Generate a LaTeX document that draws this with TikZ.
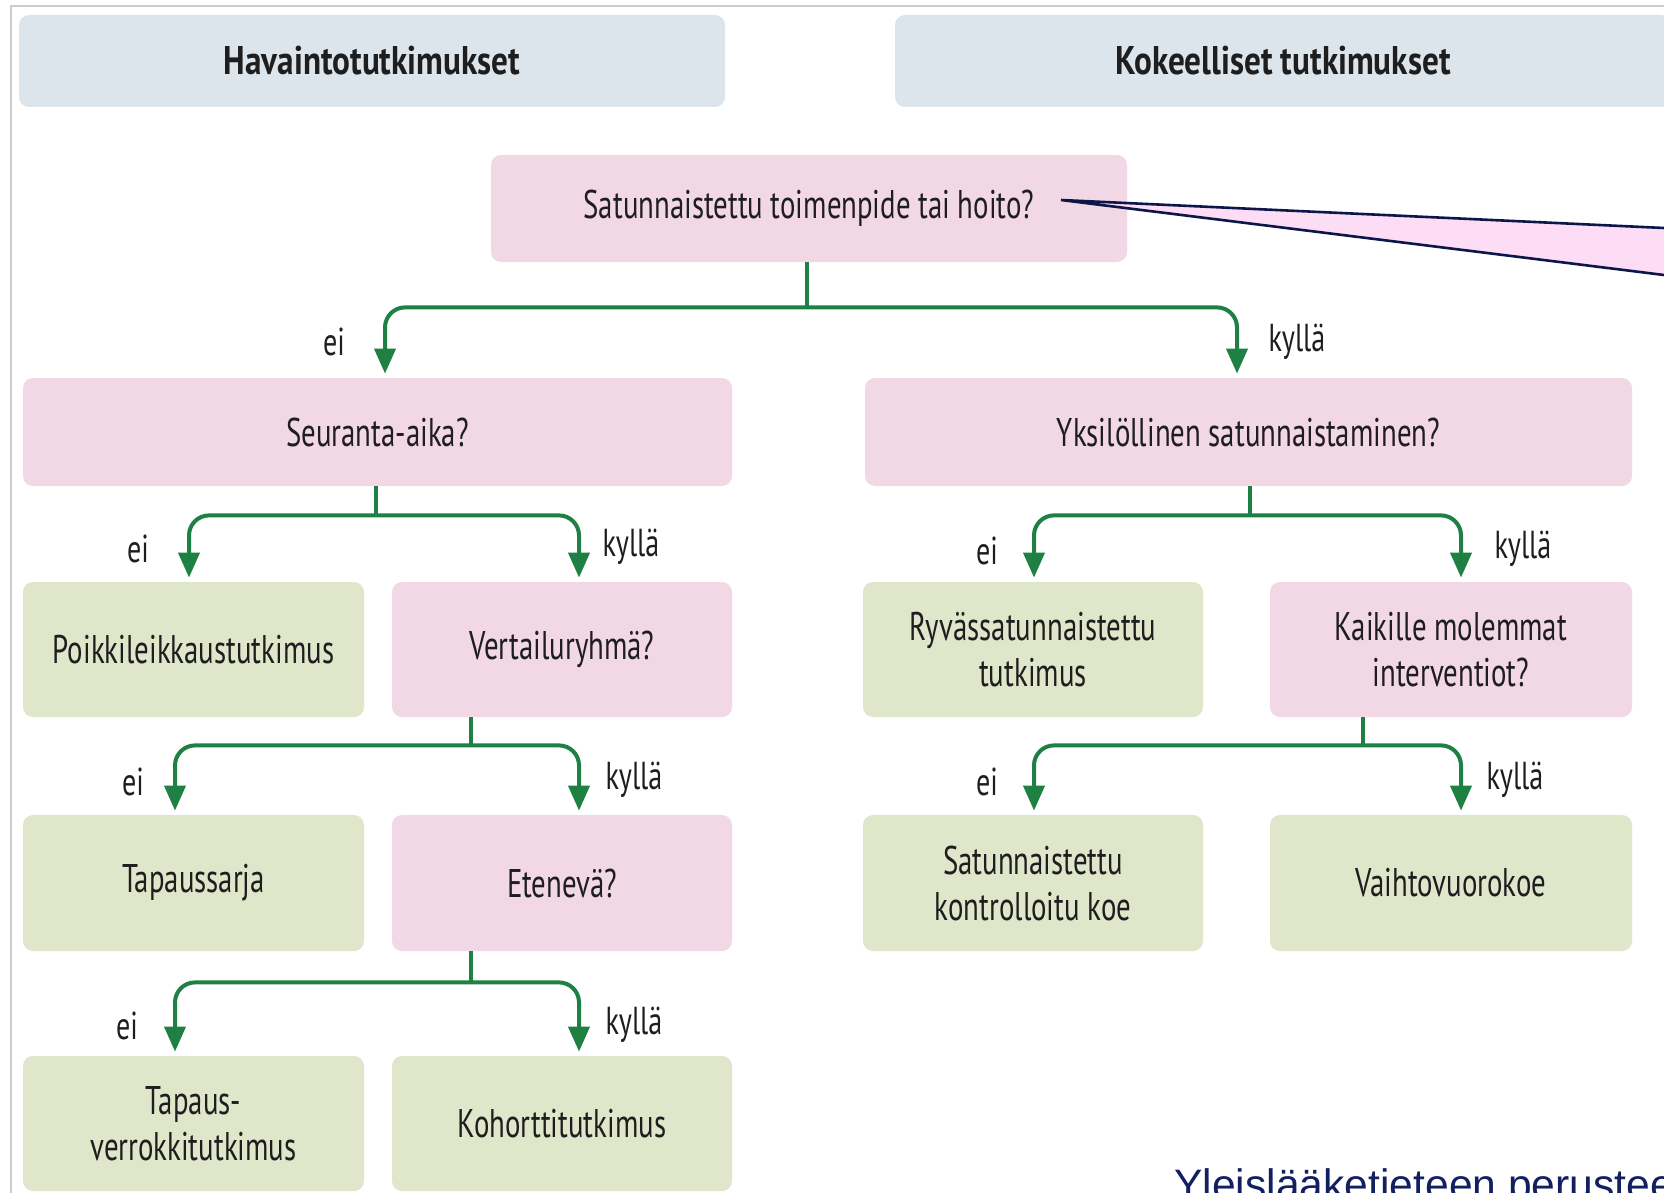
\documentclass[tikz,border=0pt]{standalone}
\usepackage{fontspec}
\setmainfont[FakeStretch=0.72]{PT Sans}
\newfontfamily\headfont[FakeStretch=0.83]{PT Sans Bold}
\newfontfamily\reffont{Liberation Sans}
\usetikzlibrary{arrows.meta,calc}
\definecolor{pinkq}{RGB}{242,215,229}
\definecolor{greenr}{RGB}{223,230,202}
\definecolor{headb}{RGB}{220,228,236}
\definecolor{connc}{RGB}{30,128,66}
\definecolor{txt}{RGB}{30,30,30}
\definecolor{calfill}{RGB}{252,221,245}
\definecolor{navy}{RGB}{12,22,72}
\definecolor{navytext}{RGB}{18,32,96}
\tikzset{
  basebox/.style={rectangle, rounded corners=5pt, text=txt, align=center,
    font=\fontsize{20}{23}\selectfont, inner sep=0pt},
  qbox/.style={basebox, fill=pinkq},
  rbox/.style={basebox, fill=greenr},
  hbox/.style={basebox, fill=headb, font=\headfont\fontsize{20}{22}\selectfont},
  smallbox/.style={minimum width=170.5pt, minimum height=67.5pt},
  connline/.style={draw=connc, line width=2pt},
  arr/.style={connline, rounded corners=10pt, -{Triangle[width=10.5pt,length=12.5pt]}},
  lbl/.style={text=txt, font=\fontsize{19.5}{20}\selectfont, inner sep=0pt}
}
\begin{document}
\begin{tikzpicture}[x=0.5pt,y=-0.5pt]
\useasboundingbox (0,0) rectangle (1664,1193);
\clip (0,0) rectangle (1664,1193);
\fill[white] (0,0) rectangle (1664,1193);
% frame
\draw[gray!40, line width=0.8pt] (11,1193) -- (11,6) -- (1664,6);

% headers
\node[hbox, minimum width=353pt, minimum height=46pt] (hav) at (372,61) {Havaintotutkimukset};
\node[hbox, minimum width=388pt, minimum height=46pt] (kok) at (1283,61) {Kokeelliset tutkimukset};

% questions and results
\node[qbox, minimum width=318pt, minimum height=53.5pt] (q1) at (809,208.5) {Satunnaistettu toimenpide tai hoito?};
\node[qbox, minimum width=354.5pt, minimum height=54pt] (q2) at (377.5,432) {Seuranta-aika?};
\node[qbox, minimum width=383.5pt, minimum height=54pt] (q3) at (1248.5,432) {Yksilöllinen satunnaistaminen?};

\node[rbox, smallbox] (poik) at (193.5,649.5) {Poikkileikkaustutkimus};
\node[qbox, smallbox, minimum width=170pt] (vert) at (562,649.5) {Vertailuryhmä?};
\node[rbox, smallbox, minimum width=170pt] (ryv) at (1033,649.5) {Ryvässatunnaistettu\\tutkimus};
\node[qbox, smallbox, minimum width=181pt] (kaik) at (1451,649.5) {Kaikille molemmat\\interventiot?};

\node[rbox, smallbox, minimum height=68pt] (tapsar) at (193.5,883) {Tapaussarja};
\node[qbox, smallbox, minimum width=170pt, minimum height=68pt] (eten) at (562,883) {Etenevä?};
\node[rbox, smallbox, minimum width=170pt, minimum height=68pt] (skk) at (1033,883) {Satunnaistettu\\kontrolloitu koe};
\node[rbox, smallbox, minimum width=181pt, minimum height=68pt] (vaih) at (1451,883) {Vaihtovuorokoe};

\node[rbox, smallbox] (tapver) at (193.5,1123.5) {Tapaus-\\verrokkitutkimus};
\node[rbox, smallbox, minimum width=170pt] (koh) at (562,1123.5) {Kohorttitutkimus};

% connectors
% level 1
\coordinate (j1) at ($(q1.south)+(-2,45)$);
\draw[connline] ($(q1.south)+(-2,0)$) -- (j1);
\draw[arr] (j1) -| ($(q2.north)+(7.5,-4)$);
\draw[arr] (j1) -| ($(q3.north)+(-11.5,-4)$);
% level 2 left
\coordinate (j2) at ($(q2.south)+(-1.5,29)$);
\draw[connline] ($(q2.south)+(-1.5,0)$) -- (j2);
\draw[arr] (j2) -| ($(poik.north)+(-4.5,-4)$);
\draw[arr] (j2) -| ($(vert.north)+(17,-4)$);
% level 2 right
\coordinate (j3) at ($(q3.south)+(1.5,29)$);
\draw[connline] ($(q3.south)+(1.5,0)$) -- (j3);
\draw[arr] (j3) -| ($(ryv.north)+(1,-4)$);
\draw[arr] (j3) -| ($(kaik.north)+(10,-4)$);
% level 3 left
\coordinate (j4) at ($(vert.south)+(-91,28)$);
\draw[connline] ($(vert.south)+(-91,0)$) -- (j4);
\draw[arr] (j4) -| ($(tapsar.north)+(-18.5,-4)$);
\draw[arr] (j4) -| ($(eten.north)+(17,-4)$);
% level 3 right
\coordinate (j5) at ($(kaik.south)+(-88,28)$);
\draw[connline] ($(kaik.south)+(-88,0)$) -- (j5);
\draw[arr] (j5) -| ($(skk.north)+(1,-4)$);
\draw[arr] (j5) -| ($(vaih.north)+(10,-4)$);
% level 4
\coordinate (j6) at ($(eten.south)+(-91,31)$);
\draw[connline] ($(eten.south)+(-91,0)$) -- (j6);
\draw[arr] (j6) -| ($(tapver.north)+(-18.5,-4)$);
\draw[arr] (j6) -| ($(koh.north)+(17,-4)$);

% labels
\node[lbl] (ei1) at (334,342) {ei};
\node[lbl] (ky1) at (1297,342) {kyllä};
\node[lbl] (ei2) at (138,549) {ei};
\node[lbl] (ky2) at (631,547) {kyllä};
\node[lbl] (ei3) at (987,551) {ei};
\node[lbl] (ky3) at (1523,549) {kyllä};
\node[lbl] (ei4) at (133,782) {ei};
\node[lbl] (ky4) at (634,780) {kyllä};
\node[lbl] (ei5) at (987,782) {ei};
\node[lbl] (ky5) at (1515,780) {kyllä};
\node[lbl] (ei6) at (127,1026) {ei};
\node[lbl] (ky6) at (634,1025) {kyllä};

% callout pointer
\coordinate (calapex) at (1061,200);
\coordinate (calup) at (1664,228);
\coordinate (callow) at (1664,275);
\fill[calfill] (calapex) -- (calup) -- (callow) -- cycle;
\draw[navy, line width=1.3pt] (calup) -- (calapex) -- (callow);

% source text
\node[anchor=base west, inner sep=0pt, text=navytext, font=\reffont\fontsize{21.3}{24}\selectfont] (src) at (1174,1199) {Yleislääketieteen perustee};
\end{tikzpicture}
\end{document}
